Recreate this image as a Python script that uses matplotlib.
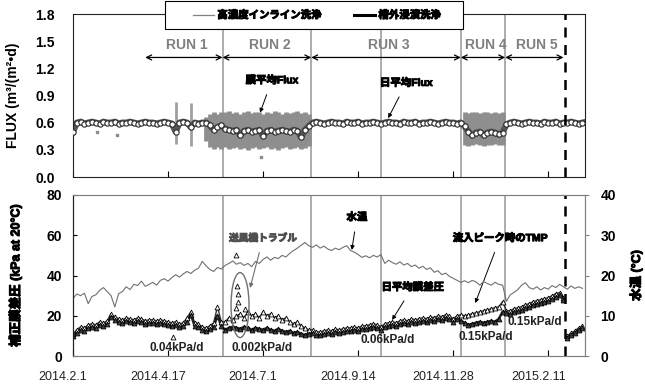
import numpy as np
import matplotlib
matplotlib.use('Agg')
import matplotlib.pyplot as plt
import matplotlib.patheffects as pe
from matplotlib.lines import Line2D
from matplotlib.patches import Ellipse, Rectangle
from matplotlib.transforms import ScaledTranslation

plt.rcParams['font.family'] = ['Liberation Sans', 'Noto Sans CJK JP']

# 経過日数 (2014.2.1 = 0), 3日ごと
days = np.arange(0, 405, 3)

tick_days = [0, 75, 150, 225, 300, 375]
tick_labels = ['2014.2.1', '2014.4.17', '2014.7.1', '2014.9.14', '2014.11.28', '2015.2.11']

# 高濃度インライン洗浄 / 槽外浸漬洗浄 の実施日
inline_days = [118, 188, 243, 306, 341]
soak_day = 388

run_names = ['RUN 1', 'RUN 2', 'RUN 3', 'RUN 4', 'RUN 5']
run_start = [57, 118, 188, 306, 341]
run_end = [118, 188, 306, 341, 387]

# 日平均Flux
flux_daily = [0.50, 0.60, 0.61, 0.59, 0.60, 0.61, 0.60, 0.59, 0.61, 0.60,
              0.60, 0.61, 0.59, 0.60, 0.60, 0.61, 0.60, 0.59, 0.60, 0.61,
              0.60, 0.60, 0.59, 0.60, 0.61, 0.60, 0.59, 0.50, 0.60, 0.61,
              0.60, 0.55, 0.60, 0.59, 0.60, 0.60, 0.57, 0.52, 0.55, 0.57,
              0.53, 0.52, 0.51, 0.52, 0.46, 0.51, 0.52, 0.50, 0.51, 0.52,
              0.45, 0.51, 0.52, 0.50, 0.51, 0.52, 0.51, 0.50, 0.52, 0.51,
              0.44, 0.52, 0.56,
              0.60, 0.61, 0.60, 0.59, 0.60, 0.61, 0.60, 0.60, 0.59, 0.61,
              0.60, 0.60, 0.61, 0.59, 0.60, 0.60, 0.61, 0.60, 0.59, 0.60,
              0.61, 0.60, 0.60, 0.59, 0.61, 0.60, 0.60, 0.61, 0.59, 0.60,
              0.60, 0.61, 0.60, 0.59, 0.60, 0.61, 0.60, 0.60, 0.59,
              0.60, 0.56, 0.50, 0.46, 0.49, 0.50, 0.46, 0.49, 0.50, 0.49, 0.47, 0.49,
              0.58, 0.60, 0.61, 0.60, 0.59, 0.60, 0.61, 0.60, 0.60, 0.59,
              0.61, 0.60, 0.60, 0.61, 0.59, 0.60, 0.60, 0.61, 0.60, 0.59, 0.60]

# 膜平均Flux (生データ) の日ごとの最小・最大
streak_days = [81, 93]
streak_lo = [0.36, 0.34]
streak_hi = [0.83, 0.82]

raw_days = [105, 108, 111, 114, 117,
            120, 123, 126, 129, 132, 135, 138, 141, 144, 147, 150, 153,
            156, 159, 162, 165, 168, 171, 174, 177, 180, 183, 186,
            309, 312, 315, 318, 321, 324, 327, 330, 333, 336, 339]
raw_lo = [0.40, 0.33, 0.31, 0.33, 0.31,
          0.33, 0.31, 0.32, 0.33, 0.31, 0.32, 0.30, 0.32, 0.33, 0.31, 0.32, 0.33,
          0.31, 0.32, 0.30, 0.32, 0.33, 0.31, 0.32, 0.33, 0.31, 0.32, 0.34,
          0.35, 0.34, 0.35, 0.36, 0.35, 0.34, 0.35, 0.35, 0.36, 0.35, 0.35]
raw_hi = [0.66, 0.70, 0.72, 0.70, 0.72,
          0.72, 0.73, 0.71, 0.72, 0.70, 0.72, 0.73, 0.71, 0.72, 0.72, 0.70, 0.72,
          0.71, 0.73, 0.72, 0.70, 0.72, 0.71, 0.72, 0.73, 0.71, 0.72, 0.70,
          0.72, 0.71, 0.72, 0.72, 0.71, 0.72, 0.72, 0.71, 0.72, 0.71, 0.72]
raw_dot_days = [19, 35, 148]
raw_dot_vals = [0.50, 0.46, 0.22]

# 日平均膜差圧 (kPa)
tmp_mean = [9.8, 11.5, 13.0, 12.5, 14.0, 14.5, 14.0, 15.5, 15.0, 16.0,
            19.5, 18.0, 17.0, 16.5, 17.5, 17.0, 16.5, 17.5, 17.0, 16.0,
            16.5, 16.5, 16.0, 16.5, 16.0, 15.5, 15.0, 15.5, 14.5, 15.0,
            17.0, 20.5, 15.0, 14.5, 13.0, 12.5, 13.5, 14.5, 20.0, 15.0,
            13.0, 14.0, 14.5, 14.0, 13.5, 14.5, 14.0, 13.0, 14.0, 13.5,
            13.0, 14.0, 13.0, 12.5, 13.5, 12.5, 12.0, 12.5, 11.5, 12.0,
            11.0, 10.5, 11.0,
            11.5, 10.5, 10.5, 11.0, 11.5, 11.0, 12.0, 11.5, 12.0, 12.5,
            12.5, 13.0, 12.5, 13.5, 13.5, 14.0, 14.5, 14.0, 13.0, 14.5,
            15.0, 15.5, 15.0, 16.0, 16.5, 16.0, 17.0, 16.5, 17.0, 17.5,
            17.0, 18.0, 17.5, 18.5, 18.0, 19.0, 18.5, 17.0, 18.5,
            17.5, 16.5, 15.5, 16.0, 16.5, 17.0, 16.5, 17.0, 17.5, 17.0, 18.5, 22.0,
            21.5, 21.0, 22.0, 22.5, 23.0, 24.0, 24.5, 25.5, 26.0, 26.5,
            27.0, 27.5, 28.5, 29.5, 30.5, 28.0, 9.0, 10.5, 11.5, 13.0, 14.0]

# 流入ピーク時のTMP (kPa)
tmp_peak = [11.0, 13.0, 14.5, 14.0, 15.5, 16.0, 15.5, 17.0, 16.5, 17.5,
            21.0, 19.5, 18.5, 18.0, 19.0, 18.5, 18.0, 19.0, 18.5, 17.5,
            18.0, 18.0, 17.5, 18.0, 17.5, 17.0, 16.5, 17.0, 16.0, 16.5,
            19.0, 22.0, 16.5, 16.0, 14.5, 14.0, 15.0, 16.5, 24.5, 17.0,
            17.0, 19.0, 18.0, 20.0, 21.0, 19.0, 22.0, 20.0, 21.0, 19.0,
            22.0, 20.0, 21.0, 19.0, 20.0, 18.0, 19.0, 17.0, 16.0, 17.0,
            15.0, 14.0, 13.0,
            13.0, 12.0, 12.0, 12.5, 13.0, 12.5, 13.5, 13.0, 13.5, 14.0,
            14.0, 14.5, 14.0, 15.0, 15.0, 15.5, 16.0, 15.5, 14.5, 16.0,
            16.5, 17.0, 16.5, 17.5, 18.0, 17.5, 18.5, 18.0, 18.5, 19.0,
            18.5, 19.5, 19.0, 20.0, 19.5, 20.5, 20.0, 18.5, 20.0,
            20.5, 20.0, 20.5, 21.0, 21.5, 22.0, 22.5, 23.0, 23.5, 24.0, 24.5, 27.0,
            22.5, 22.5, 23.5, 24.0, 24.5, 25.5, 26.0, 27.0, 27.5, 28.0,
            28.5, 29.0, 30.0, 31.0, 31.5, 29.0, 10.0, 11.5, 12.5, 14.0, 15.0]

# 送風機トラブル時などの突出値
spike_days = [79, 129, 129.5, 130, 130, 129, 136]
spike_vals = [9.5, 50.0, 35.0, 31.0, 27.0, 24.0, 23.5]

# 水温 (℃)
water_temp = [14.3, 15.4, 15.0, 15.6, 13.0, 14.8, 15.2, 16.3, 17.0, 16.0,
              15.0, 12.2, 15.5, 16.0, 17.2, 16.5, 17.8, 17.5, 18.6, 17.3,
              17.8, 18.3, 17.6, 18.8, 19.2, 18.6, 19.5, 20.2, 19.6, 20.4,
              21.0, 20.5, 21.3, 21.8, 23.5, 22.4, 21.5, 21.0, 22.0, 21.6,
              22.5, 23.0, 23.6, 22.8, 23.2, 22.5, 23.0, 22.2, 23.5, 23.0,
              24.0, 24.6, 23.8, 24.5, 24.2, 25.0, 24.6, 25.5, 26.2, 26.8,
              27.5, 28.2, 27.4, 27.0, 27.6, 26.8, 27.3, 26.6, 26.2, 26.8,
              26.4, 27.0, 27.4, 26.2, 25.8, 25.2, 24.5, 24.9, 24.4, 25.0,
              24.6, 25.2, 23.0, 23.8, 23.2, 22.8, 23.4, 22.6, 23.0, 22.2,
              22.6, 21.8, 22.3, 21.5, 21.9, 20.8, 21.2, 20.2, 20.6, 19.8,
              19.3, 18.8, 18.3, 18.7, 18.2, 18.8, 18.4, 17.6, 18.5, 18.0,
              17.6, 18.3, 17.8, 17.6, 13.6, 15.2, 15.8, 16.5, 17.6, 18.2,
              17.0, 16.6, 17.2, 16.4, 17.0, 16.6, 17.5, 17.0, 17.8, 17.2,
              16.6, 17.4, 16.8, 17.2, 16.8]

flux_daily = np.array(flux_daily)
tmp_mean = np.array(tmp_mean)
tmp_peak = np.array(tmp_peak)

# 太字を強めるための縁取り
heavy = [pe.withStroke(linewidth=0.7, foreground='black')]
heavy_gray = [pe.withStroke(linewidth=0.7, foreground='#505050')]

fig = plt.figure(figsize=(6.45, 3.85), dpi=100)
ax1 = fig.add_axes([73/645, 1-177/385, 512/645, 163/385])
ax2 = fig.add_axes([73/645, 1-356/385, 512/645, 161/385])
ax3 = ax2.twinx()

xmax = 404

# ---- 上段: Flux ----
ax1.vlines(streak_days, streak_lo, streak_hi, color='#a0a0a0', lw=2.0, zorder=1)
ax1.vlines(raw_days, raw_lo, raw_hi, color='#8e8e8e', lw=3.4, zorder=1)
ax1.scatter(raw_dot_days, raw_dot_vals, s=4, c='#8c8c8c', marker='s', zorder=1)
ax1.plot(days, flux_daily, '-', color='#555555', lw=4.5, zorder=2)
ax1.plot(days, flux_daily, 'o', ms=3.8, mfc='white', mec='#2a2a2a', mew=0.8, zorder=3)

for d in inline_days:
    ax1.axvline(d, color='#a6a6a6', lw=1.3, zorder=0.5)
    ax2.axvline(d, color='#a6a6a6', lw=1.3, zorder=0.5)
ax1.axvline(soak_day, color='black', lw=1.8, ls=(0, (4, 3)), zorder=4)
ax2.axvline(soak_day, color='black', lw=1.8, ls=(0, (4, 3)), zorder=4)

for name, s, e in zip(run_names, run_start, run_end):
    ax1.annotate('', xy=(e, 1.32), xytext=(s, 1.32),
                 arrowprops=dict(arrowstyle='<->', lw=0.9, color='black',
                                 mutation_scale=9, shrinkA=0, shrinkB=0))
    ax1.text((s + e) / 2 + 2, 1.46, name, ha='center', va='center',
             fontsize=10, fontweight='bold', color='#808080')

note_kw = dict(ha='center', va='center', fontsize=7.5, fontweight='bold',
               path_effects=heavy)
arrow_kw = dict(arrowstyle='-|>', lw=0.7, color='black', mutation_scale=6,
                shrinkA=5, shrinkB=0)

ax1.annotate('膜平均Flux', xy=(147.6, 0.71), xytext=(157, 1.07),
             arrowprops=arrow_kw, **note_kw)
ax1.annotate('日平均Flux', xy=(248.7, 0.65), xytext=(263, 1.04),
             arrowprops=arrow_kw, **note_kw)

ax1.set_xlim(0, xmax)
ax1.set_ylim(0, 1.8)
ax1.set_xticks(tick_days)
ax1.set_yticks([0, 0.3, 0.6, 0.9, 1.2, 1.5, 1.8])
ax1.set_yticklabels(['0.0', '0.3', '0.6', '0.9', '1.2', '1.5', '1.8'],
                    fontsize=10, fontweight='bold')
ax1.tick_params(axis='x', direction='in', length=4, labelbottom=False)
ax1.tick_params(axis='y', length=0, pad=13)
ax1.set_ylabel('FLUX (m³/(m²•d)', fontsize=10, fontweight='bold')
ax1.yaxis.set_label_coords(-0.103, 0.5)
for sp in ax1.spines.values():
    sp.set_color('#222222')

# ---- 下段: 膜差圧と水温 ----
ax3.plot(days, water_temp, color='#707070', lw=0.8)

# 槽外浸漬洗浄の前後で線を分ける
for part in (days < soak_day, days > soak_day):
    ax2.plot(days[part], tmp_peak[part], '-', color='#333333', lw=1.0, zorder=2)
    ax2.plot(days[part], tmp_mean[part], '-', color='#222222', lw=1.8, zorder=2)
ax2.plot(days, tmp_peak, '^', ms=3.5, mfc='white', mec='black', mew=0.6, zorder=2)
ax2.plot(days, tmp_mean, '^', ms=3.5, mfc='#444444', mec='black', mew=0.6, zorder=2)
ax2.plot(spike_days, spike_vals, '^', ms=3.5, mfc='white', mec='black', mew=0.6, zorder=2)

ax2.add_patch(Ellipse((131.8, 25.3), 14.2, 32.3, fill=False,
                      ec='#707070', lw=1.0, zorder=3))
ax2.annotate('送風機トラブル', xy=(139.7, 33.8), xytext=(150, 58.6),
             ha='center', va='center', fontsize=7, fontweight='bold', color='#505050',
             path_effects=heavy_gray,
             arrowprops=dict(arrowstyle='-|>', lw=0.8, color='#707070',
                             mutation_scale=6, shrinkA=5, shrinkB=0))
ax2.annotate('水温', xy=(220, 52.7), xytext=(224, 69),
             arrowprops=arrow_kw, **note_kw)
ax2.annotate('日平均膜差圧', xy=(251.8, 17.9), xytext=(268, 34.3),
             arrowprops=arrow_kw, **note_kw)
ax2.annotate('流入ピーク時のTMP', xy=(317.4, 26.3), xytext=(337, 58.6),
             arrowprops=arrow_kw, **note_kw)

slope_text = ['0.04kPa/d', '0.002kPa/d', '0.06kPa/d', '0.15kPa/d', '0.15kPa/d']
slope_pos = [(82, 4), (149.2, 4), (248.3, 8), (326, 9.4), (364.7, 16.9)]
for t, (x, y) in zip(slope_text, slope_pos):
    ax2.text(x, y, t, ha='center', va='center', fontsize=8.5,
             fontweight='bold', color='#222222', zorder=3)

ax2.set_xlim(0, xmax)
ax2.set_ylim(0, 80)
ax3.set_ylim(0, 40)
ax2.set_xticks(tick_days)
ax2.set_xticklabels(tick_labels, fontsize=9, color='#222222')
ax2.set_yticks([0, 20, 40, 60, 80])
ax2.set_yticklabels(['0', '20', '40', '60', '80'], fontsize=10, fontweight='bold')
ax3.set_yticks([0, 10, 20, 30, 40])
ax3.set_yticklabels(['0', '10', '20', '30', '40'], fontsize=10, fontweight='bold')
ax2.tick_params(axis='x', direction='in', length=4, pad=11)
ax2.tick_params(axis='y', direction='in', length=3, pad=8)
ax3.tick_params(axis='y', direction='out', length=3, pad=8, color='#808080')
shift = ScaledTranslation(-10/100, 0, fig.dpi_scale_trans)
for lbl in ax2.get_xticklabels():
    lbl.set_transform(lbl.get_transform() + shift)

ax2.set_ylabel('補正膜差圧 (kPa at 20°C)', fontsize=9, fontweight='bold',
               path_effects=heavy)
ax2.yaxis.set_label_coords(-0.099, 0.5)
ax3.set_ylabel('水温 (°C)', fontsize=9, fontweight='bold', path_effects=heavy)
ax3.yaxis.set_label_coords(1.086, 0.5)

for a in (ax2, ax3):
    for key, sp in a.spines.items():
        sp.set_color('#222222' if key == 'left' else '#808080')

# ---- 凡例 ----
fig.patches.append(Rectangle((165/645, 1-29/385), 298/645, 28/385,
                             transform=fig.transFigure, fc='white', ec='black',
                             lw=0.8, zorder=4))
handles = [Line2D([], [], color='#7f7f7f', lw=0.9),
           Line2D([], [], color='black', lw=2.2)]
leg = fig.legend(handles, ['高濃度インライン洗浄', '槽外浸漬洗浄'], loc='center',
                 bbox_to_anchor=(317/645, 1-15/385), ncol=2, frameon=False,
                 prop={'size': 7.5, 'weight': 'bold'}, handlelength=2.0,
                 handletextpad=0.3, columnspacing=3.2)
for t in leg.get_texts():
    t.set_path_effects(heavy)

fig.savefig('out.png', dpi=100)
